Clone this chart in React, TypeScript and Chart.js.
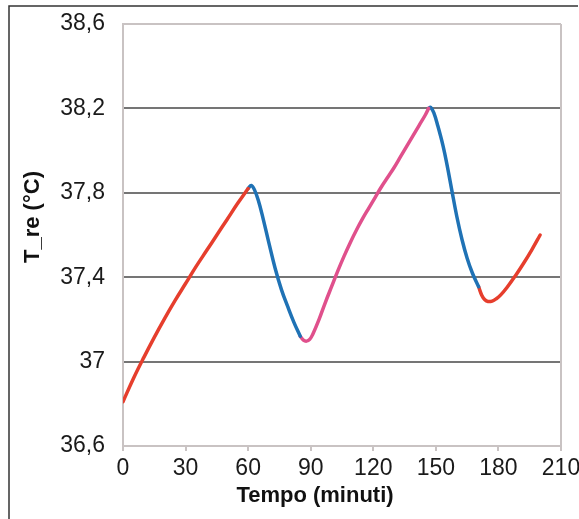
import React, { useEffect, useRef } from "react";
import { Chart, registerables } from "chart.js";

Chart.register(...registerables);

// Segment 1 (red): warming
const seg1Minutes = [0, 5, 10, 15, 20, 25, 30, 35, 40, 45, 50, 55, 60];
const seg1Temps = [36.81, 36.92, 37.02, 37.115, 37.205, 37.29, 37.37, 37.45, 37.525, 37.6, 37.675, 37.75, 37.82];

// Segment 2 (blue): cooling
const seg2Minutes = [60, 61.5, 63, 65, 67, 70, 73, 76, 79, 82, 85];
const seg2Temps = [37.82, 37.835, 37.815, 37.76, 37.685, 37.56, 37.44, 37.34, 37.26, 37.185, 37.12];

// Segment 3 (pink): warming
const seg3Minutes = [85, 86.5, 88, 89.5, 91, 94, 97, 100, 103, 106, 109, 112, 115, 118, 121, 124, 127, 130, 133, 136, 139, 142, 145, 146.5];
const seg3Temps = [37.12, 37.102, 37.097, 37.105, 37.13, 37.2, 37.28, 37.355, 37.43, 37.5, 37.565, 37.625, 37.68, 37.73, 37.78, 37.83, 37.875, 37.92, 37.97, 38.02, 38.07, 38.12, 38.17, 38.2];

// Segment 4 (blue): cooling
const seg4Minutes = [146.5, 147.5, 149, 151, 153.5, 155.5, 157.5, 160, 162.5, 165, 167.5, 170.5];
const seg4Temps = [38.2, 38.205, 38.18, 38.115, 38.02, 37.925, 37.82, 37.69, 37.58, 37.49, 37.42, 37.355];

// Segment 5 (red): warming
const seg5Minutes = [170.5, 172, 173.5, 175, 177, 179, 181, 184, 188, 192, 196, 200];
const seg5Temps = [37.355, 37.315, 37.293, 37.285, 37.287, 37.298, 37.315, 37.35, 37.405, 37.465, 37.53, 37.6];

const xTicks = [0, 30, 60, 90, 120, 150, 180, 210];
const yTicks = [36.6, 37.0, 37.4, 37.8, 38.2, 38.6];

const xTitle = "Tempo (minuti)";
const yTitle = "T_re (°C)";

const RED = "#e63e2d";
const BLUE = "#1f72b5";
const PINK = "#e0508c";
const LIGHT = "#c9c3c3";
const DARK = "#757575";
const FONT = "Arial, 'Liberation Sans', sans-serif";

const toPoints = (xs: number[], ys: number[]) => xs.map((x, i) => ({ x, y: ys[i] }));

const decorPlugin = {
  id: "decor",
  beforeDatasetsDraw(chart: any) {
    const { ctx, chartArea } = chart;
    ctx.save();
    ctx.strokeStyle = LIGHT;
    ctx.lineWidth = 2;
    ctx.beginPath();
    ctx.moveTo(chartArea.right, chartArea.top);
    ctx.lineTo(chartArea.right, chartArea.bottom);
    ctx.stroke();
    ctx.restore();
  },
  afterDraw(chart: any) {
    const { ctx } = chart;
    ctx.save();
    // outer frame
    ctx.strokeStyle = "#333333";
    ctx.lineWidth = 1.5;
    ctx.beginPath();
    ctx.moveTo(9, 519);
    ctx.lineTo(9, 6);
    ctx.lineTo(578, 6);
    ctx.stroke();
    // titles
    ctx.fillStyle = "#111111";
    ctx.font = `bold 22px ${FONT}`;
    ctx.textAlign = "center";
    ctx.textBaseline = "middle";
    ctx.fillText(xTitle, 315, 496);
    ctx.translate(33, 217);
    ctx.rotate(-Math.PI / 2);
    ctx.fillText(yTitle, 0, 0);
    ctx.restore();
  },
};

export default function App() {
  const canvasRef = useRef<HTMLCanvasElement | null>(null);

  useEffect(() => {
    const canvas = canvasRef.current;
    if (!canvas) return;
    const mk = (xs: number[], ys: number[], color: string) => ({
      data: toPoints(xs, ys),
      borderColor: color,
      backgroundColor: color,
      borderWidth: 3.5,
      pointRadius: 0,
      fill: false,
      tension: 0.4,
      borderCapStyle: "round" as const,
      borderJoinStyle: "round" as const,
    });
    const chart = new Chart(canvas, {
      type: "line",
      data: {
        datasets: [
          mk(seg1Minutes, seg1Temps, RED),
          mk(seg2Minutes, seg2Temps, BLUE),
          mk(seg3Minutes, seg3Temps, PINK),
          mk(seg4Minutes, seg4Temps, BLUE),
          mk(seg5Minutes, seg5Temps, RED),
        ],
      },
      options: {
        animation: false,
        responsive: false,
        devicePixelRatio: 1,
        layout: { padding: { top: 24, right: 18, left: 0, bottom: 0 } },
        plugins: {
          legend: { display: false },
          tooltip: { enabled: false },
        },
        scales: {
          x: {
            type: "linear",
            min: 0,
            max: 210,
            afterBuildTicks: (axis: any) => {
              axis.ticks = xTicks.map((v) => ({ value: v }));
            },
            afterFit: (s: any) => {
              s.height = 73;
              s.paddingLeft = 0;
              s.paddingRight = 0;
            },
            grid: {
              drawOnChartArea: false,
              drawTicks: true,
              tickLength: 5,
              color: LIGHT,
              lineWidth: 2,
            },
            border: { display: true, color: LIGHT, width: 2 },
            ticks: {
              padding: 4,
              color: "#1a1a1a",
              font: { family: FONT, size: 23 },
              maxRotation: 0,
              autoSkip: false,
            },
          },
          y: {
            type: "linear",
            min: 36.6,
            max: 38.6,
            afterBuildTicks: (axis: any) => {
              axis.ticks = yTicks.map((v) => ({ value: v }));
            },
            afterFit: (s: any) => {
              s.width = 123;
              s.paddingTop = 0;
              s.paddingBottom = 0;
            },
            grid: {
              drawTicks: false,
              lineWidth: 2,
              color: (c: any) => {
                const v = c.tick ? c.tick.value : 0;
                return Math.abs(v - 36.6) < 1e-6 || Math.abs(v - 38.6) < 1e-6 ? LIGHT : DARK;
              },
            },
            border: { display: true, color: LIGHT, width: 2 },
            ticks: {
              padding: 18,
              color: "#1a1a1a",
              font: { family: FONT, size: 23 },
              autoSkip: false,
              callback: (v: any) => String(Number(Number(v).toFixed(1))).replace(".", ","),
            },
          },
        },
      },
      plugins: [decorPlugin],
    });
    return () => chart.destroy();
  }, []);

  return (
    <div style={{ position: "fixed", left: 0, top: 0, width: 579, height: 519, background: "#ffffff" }}>
      <canvas ref={canvasRef} width={579} height={519} style={{ width: 579, height: 519, display: "block" }} />
    </div>
  );
}
